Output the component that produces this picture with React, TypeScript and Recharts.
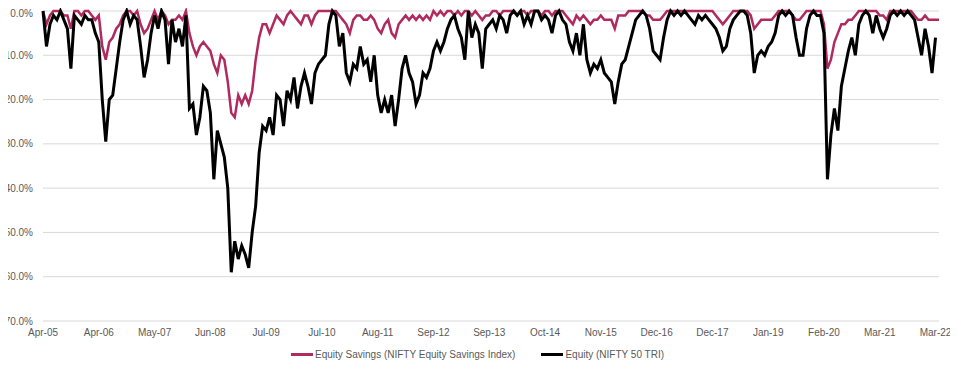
import { CartesianGrid, Legend, Line, LineChart, XAxis, YAxis } from "recharts";

// tick labels along the bottom, one every 16 samples
const tickLabels = [
  "Apr-05", "Apr-06", "May-07", "Jun-08", "Jul-09", "Jul-10", "Aug-11", "Sep-12", "Sep-13",
  "Oct-14", "Nov-15", "Dec-16", "Dec-17", "Jan-19", "Feb-20", "Mar-21", "Mar-22",
];

// drawdown %, Equity Savings (NIFTY Equity Savings Index)
const savings = [
  0, -3, -1, 0, 0, 0, -1, -1, -4, 0, 0, -1, 0, 0, -1, -2,
  -1, -8, -11, -7, -6, -4, -3, -1, 0, 0, -1, 0, -3, -5, -4, -2,
  0, -2, 0, -1, -3, -2, -2, -1, -2, 0, -5, -8, -10, -8, -7, -8,
  -9, -12, -14, -10, -11, -16, -23, -24, -19, -21, -19, -21, -18, -11, -6, -3,
  -3, -5, -3, -1, -2, -3, -1, 0, -1, -2, -3, -1, -1, -3, -1, 0,
  0, 0, 0, 0, 0, -1, -2, -3, -5, -2, -1, -1, -2, -2, -1, -2,
  -4, -5, -3, -2, -5, -6, -3, -2, -1, -2, -1, -2, -1, -2, -1, -2,
  0, -1, 0, -1, 0, 0, -1, 0, -1, 0, 0, -1, 0, -1, -2, -1,
  -1, 0, 0, -1, 0, 0, 0, 0, -1, 0, 0, -1, 0, 0, 0, -1,
  0, 0, -1, 0, 0, 0, -1, -2, -3, -1, -2, -1, -2, -3, -2, -2,
  -1, -2, -2, -2, -4, -1, -1, -1, 0, 0, 0, 0, 0, -1, -1, -2,
  -2, -2, -1, 0, 0, 0, 0, 0, 0, 0, 0, 0, 0, 0, 0, 0,
  0, -1, -2, -3, -2, -1, 0, 0, 0, 0, 0, -1, -4, -3, -2, -2,
  -2, -2, -1, 0, 0, 0, 0, -1, -2, -2, -1, 0, 0, 0, 0, 0,
  -3, -13, -11, -7, -5, -3, -3, -2, -2, -1, 0, 0, 0, 0, 0, 0,
  -1, -1, -2, 0, 0, 0, 0, 0, 0, 0, -1, -2, -2, -1, -2, -2,
  -2, -2,
];

// drawdown %, Equity (NIFTY 50 TRI)
const equity = [
  0, -8, -3, -1, -2, 0, -2, -4, -13, -1, -2, -3, -1, -2, -2, -5,
  -7, -20, -29.5, -20, -19, -13, -7, -2, 0, -3, -1, -2, -8, -15, -11, -5,
  -1, -4, 0, -2, -12, -2, -7, -4, -8, -1, -22, -21, -28, -24, -17, -18,
  -23, -38, -27, -30, -33, -40, -59, -52, -56, -53, -55, -58, -50, -44, -32, -26,
  -27, -24, -28, -19, -20, -26, -18, -20, -15, -22, -17, -14, -17, -21, -14, -12,
  -11, -10, -3, 0, -1, -8, -5, -14, -16, -12, -13, -8, -12, -11, -16, -10,
  -19, -23, -20, -23, -19, -26, -20, -13, -10, -14, -16, -21, -19, -14, -15, -13,
  -9, -7, -9, -7, -4, -2, -1, -4, -6, -11, 0, -6, -3, -5, -13, -4,
  -3, -2, -4, -1, -2, -5, -1, 0, -1, 0, -3, -1, -3, 0, 0, -2,
  -1, -2, -5, -1, 0, -2, -3, -7, -9, -5, -10, -3, -11, -14, -12, -13,
  -11, -14, -15, -16, -21, -16, -12, -11, -8, -5, -2, -1, 0, -1, -4, -9,
  -10, -11, -6, -2, 0, -1, 0, -1, 0, -1, -2, -3, -1, -2, -1, -2,
  -3, -4, -6, -9, -8, -4, -2, -1, 0, 0, -1, -5, -14, -10, -9, -10,
  -8, -7, -5, -1, 0, -1, 0, -1, -6, -10, -10, -4, -1, 0, -1, -1,
  -5, -38, -28, -22, -27, -17, -13, -9, -6, -10, -3, -1, 0, -1, -5, -1,
  -4, -6, -4, -1, 0, -1, 0, -1, 0, -1, -2, -6, -10, -4, -8, -14,
  -6, null,
];

const yTicks = [-70, -60, -50, -40, -30, -20, -10, 0];
const seriesOrder = ["savings", "equity"];

const data = savings.map((v, i) => ({ i, savings: v, equity: equity[i] }));
const xTicks = tickLabels.map((_, k) => k * 16);

const PINK = "#b02a5f";
const TEXT = "#595959";
const FONT = "'Liberation Sans', Arial, sans-serif";

function LegendRow({ payload }: any) {
  const items = [...(payload || [])].sort(
    (a: any, b: any) => seriesOrder.indexOf(a.dataKey) - seriesOrder.indexOf(b.dataKey)
  );
  return (
    <div
      style={{
        display: "flex",
        justifyContent: "center",
        alignItems: "center",
        gap: 26,
        height: 16,
        paddingLeft: 16,
        fontFamily: FONT,
        fontSize: 10,
        color: TEXT,
      }}
    >
      {items.map((p: any) => (
        <div key={p.value} style={{ display: "flex", alignItems: "center" }}>
          <span style={{ display: "inline-block", width: 22, height: 3, background: p.color, marginRight: 2 }} />
          <span>{p.value}</span>
        </div>
      ))}
    </div>
  );
}

export default function App() {
  return (
    <div style={{ width: 950, height: 356, marginLeft: -8, fontFamily: FONT }}>
      <LineChart width={950} height={356} data={data} margin={{ top: 3, right: 11, left: 0, bottom: 2 }}>
        <CartesianGrid stroke="#d9d9d9" vertical={false} />
        <XAxis
          dataKey="i"
          type="number"
          domain={[0, savings.length - 1]}
          ticks={xTicks}
          tickFormatter={(v: number) => tickLabels[Math.round(v / 16)] ?? ""}
          tick={{ fontSize: 10, fill: TEXT }}
          axisLine={false}
          tickLine={false}
          height={25}
          interval={0}
        />
        <YAxis
          domain={[-70, 0]}
          ticks={yTicks}
          tickFormatter={(v: number) => `${v.toFixed(1)}%`}
          tick={{ fontSize: 10, fill: TEXT }}
          axisLine={false}
          tickLine={false}
          tickMargin={4}
          width={43}
        />
        <Legend verticalAlign="bottom" content={<LegendRow />} />
        <Line
          type="linear"
          dataKey="savings"
          name="Equity Savings (NIFTY Equity Savings Index)"
          stroke={PINK}
          strokeWidth={2.5}
          dot={false}
          isAnimationActive={false}
        />
        <Line
          type="linear"
          dataKey="equity"
          name="Equity (NIFTY 50 TRI)"
          stroke="#000000"
          strokeWidth={3}
          dot={false}
          isAnimationActive={false}
        />
      </LineChart>
    </div>
  );
}
